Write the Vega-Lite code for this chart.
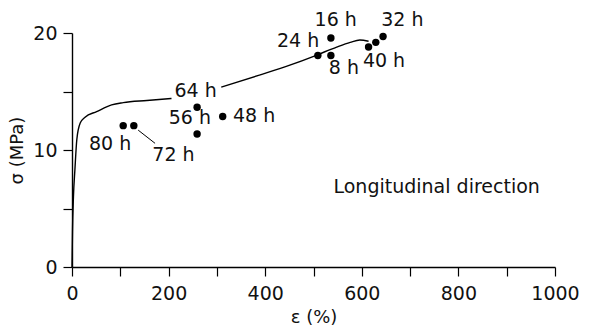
{
  "$schema": "https://vega.github.io/schema/vega-lite/v6.json",
  "width": 483,
  "height": 234,
  "autosize": "none",
  "padding": {"left": 72, "top": 33, "right": 48, "bottom": 62},
  "background": "white",
  "config": {
    "view": {"stroke": null},
    "font": "DejaVu Sans",
    "axis": {
      "grid": false,
      "domainColor": "#000",
      "tickColor": "#000",
      "domainWidth": 1.4,
      "tickWidth": 1.2,
      "tickSize": 9,
      "labelFont": "DejaVu Sans",
      "labelFontSize": 19,
      "labelColor": "#111",
      "labelFlush": false,
      "labelOverlap": false,
      "titleFont": "DejaVu Sans",
      "titleFontSize": 18,
      "titleFontWeight": "normal",
      "titleColor": "#111"
    }
  },
  "datasets": {
    "curve": [
      {"seg": "a", "strain": 0, "stress": 0},
      {"seg": "a", "strain": 1, "stress": 3},
      {"seg": "a", "strain": 3, "stress": 6},
      {"seg": "a", "strain": 6, "stress": 8.3},
      {"seg": "a", "strain": 10, "stress": 10.9},
      {"seg": "a", "strain": 17, "stress": 12.3},
      {"seg": "a", "strain": 27, "stress": 12.8},
      {"seg": "a", "strain": 51, "stress": 13.28},
      {"seg": "a", "strain": 82, "stress": 13.86},
      {"seg": "a", "strain": 106, "stress": 14.05},
      {"seg": "a", "strain": 155, "stress": 14.23},
      {"seg": "a", "strain": 206, "stress": 14.4},
      {"seg": "b", "strain": 309, "stress": 15.37},
      {"seg": "b", "strain": 388, "stress": 16.4},
      {"seg": "b", "strain": 451, "stress": 17.25},
      {"seg": "b", "strain": 503, "stress": 18.05},
      {"seg": "b", "strain": 548, "stress": 18.8},
      {"seg": "b", "strain": 576, "stress": 19.2},
      {"seg": "b", "strain": 596, "stress": 19.4},
      {"seg": "b", "strain": 614, "stress": 19.3}
    ],
    "leader": [
      {"seg": "c", "strain": 137, "stress": 11.7},
      {"seg": "c", "strain": 172, "stress": 10.57}
    ],
    "points": [
      {"strain": 106, "stress": 12.08},
      {"strain": 128, "stress": 12.08},
      {"strain": 259, "stress": 13.66},
      {"strain": 259, "stress": 11.37},
      {"strain": 312, "stress": 12.86},
      {"strain": 509, "stress": 18.08},
      {"strain": 536, "stress": 18.08},
      {"strain": 536, "stress": 19.57},
      {"strain": 614, "stress": 18.8},
      {"strain": 629, "stress": 19.2},
      {"strain": 644, "stress": 19.7}
    ],
    "labels": [
      {"strain": 79, "stress": 10.54, "label": "80 h"},
      {"strain": 210, "stress": 9.6, "label": "72 h"},
      {"strain": 256, "stress": 15.04, "label": "64 h"},
      {"strain": 244, "stress": 12.74, "label": "56 h"},
      {"strain": 377, "stress": 12.89, "label": "48 h"},
      {"strain": 468, "stress": 19.28, "label": "24 h"},
      {"strain": 546, "stress": 21.07, "label": "16 h"},
      {"strain": 563, "stress": 17.04, "label": "8 h"},
      {"strain": 646, "stress": 17.57, "label": "40 h"},
      {"strain": 684, "stress": 21.07, "label": "32 h"},
      {"strain": 755, "stress": 6.85, "label": "Longitudinal direction"}
    ]
  },
  "layer": [
    {
      "data": {"name": "curve"},
      "mark": {"type": "line", "color": "#000", "strokeWidth": 1.4, "interpolate": "monotone", "clip": false},
      "encoding": {
        "x": {
          "field": "strain", "type": "quantitative",
          "scale": {"domain": [0, 1000], "nice": false},
          "axis": {
            "title": "ε (%)",
            "format": "d",
            "values": [0, 100, 200, 300, 400, 500, 600, 700, 800, 900, 1000],
            "labelExpr": "datum.value % 200 === 0 ? datum.label : ''",
            "labelPadding": 8,
            "titlePadding": 5
          }
        },
        "y": {
          "field": "stress", "type": "quantitative",
          "scale": {"domain": [0, 20], "nice": false},
          "axis": {
            "title": "σ (MPa)",
            "format": "d",
            "values": [0, 5, 10, 15, 20],
            "labelExpr": "datum.value % 10 === 0 ? datum.label : ''",
            "labelPadding": 6,
            "titlePadding": 6
          }
        },
        "detail": {"field": "seg"}
      }
    },
    {
      "data": {"name": "leader"},
      "mark": {"type": "line", "color": "#000", "strokeWidth": 1},
      "encoding": {
        "x": {"field": "strain", "type": "quantitative"},
        "y": {"field": "stress", "type": "quantitative"},
        "detail": {"field": "seg"}
      }
    },
    {
      "data": {"name": "points"},
      "mark": {"type": "circle", "color": "#000", "opacity": 1, "size": 55},
      "encoding": {
        "x": {"field": "strain", "type": "quantitative"},
        "y": {"field": "stress", "type": "quantitative"}
      }
    },
    {
      "data": {"name": "labels"},
      "mark": {"type": "text", "font": "DejaVu Sans", "fontSize": 19, "color": "#111", "align": "center", "baseline": "middle"},
      "encoding": {
        "x": {"field": "strain", "type": "quantitative"},
        "y": {"field": "stress", "type": "quantitative"},
        "text": {"field": "label"}
      }
    }
  ]
}
